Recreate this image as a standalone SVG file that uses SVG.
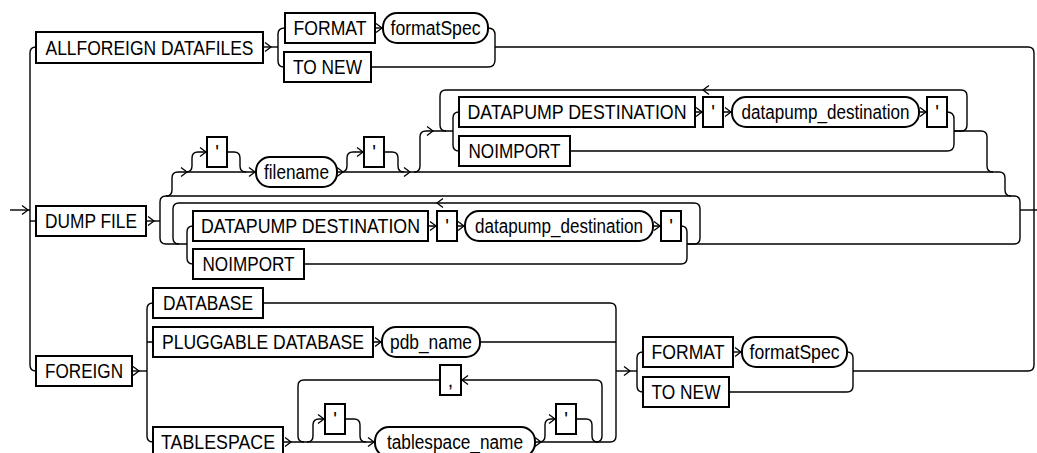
<svg xmlns="http://www.w3.org/2000/svg" width="1037" height="453" viewBox="0 0 1037 453">
<style>
.r{fill:none;stroke:#000;stroke-width:1.4}
.b{fill:#fff;stroke:#000;stroke-width:2}
.t{font-family:"Liberation Sans",Arial,Helvetica,sans-serif;font-size:19.5px;fill:#000}
.c{text-anchor:middle}
.a{fill:none;stroke:#000;stroke-width:1.3}
</style>
<defs>
<path id="ar" class="a" d="M-6,-4.5 L0,0 L-6,4.5"/>
<path id="al" class="a" d="M6,-4.5 L0,0 L6,4.5"/>
</defs>
<rect width="1037" height="453" fill="#fff"/>
<g id="connectors">
<path class="r" d="M10,210 L30,210"/>
<path class="r" d="M36,47 Q30,47 30,53 L30,365 Q30,371 36,371"/>
<path class="r" d="M30,221 L36,221"/>
<path class="r" d="M495,47 L1028,47 Q1034,47 1034,53 L1034,365 Q1034,371 1028,371 L853,371"/>
<path class="r" d="M1020,210 L1037,210"/>
<path class="r" d="M263,47 L278,47"/>
<path class="r" d="M285,28 Q278,28 278,34 L278,61 Q278,67 284,67"/>
<path class="r" d="M375,28 L383,28"/>
<path class="r" d="M488,28 Q495,28 495,35 L495,60 Q495,67 488,67 L371,67"/>
<path class="r" d="M146,221 L160,221"/>
<path class="r" d="M160,238 L160,202 Q160,196 166,196 L1014,196 Q1020,196 1020,202 L1020,238 Q1020,244 1014,244 L687,244"/>
<path class="r" d="M160,238 Q160,244 166,244 L187,244"/>
<path class="r" d="M166,196 Q172,196 172,190 L172,178 Q172,172 178,172 L256,172"/>
<path class="r" d="M186,172 Q192,172 192,166 L192,158 Q192,152 198,152 L207,152"/>
<path class="r" d="M227,152 L234,152 Q240,152 240,158 L240,166 Q240,172 246,172"/>
<path class="r" d="M337,172 L999,172 Q1005,172 1005,178 L1005,190 Q1005,196 1011,196"/>
<path class="r" d="M341,172 Q347,172 347,166 L347,158 Q347,152 353,152 L364,152"/>
<path class="r" d="M384,152 L392,152 Q398,152 398,158 L398,166 Q398,172 404,172"/>
<path class="r" d="M414,172 Q420,172 420,166 L420,137 Q420,131 426,131 L453,131"/>
<path class="r" d="M954,131 L961,131 Q967,131 967,125 L967,96 Q967,90 961,90 L446,90 Q440,90 440,96 L440,125 Q440,131 446,131"/>
<path class="r" d="M459,112 Q453,112 453,118 L453,145 Q453,151 459,151"/>
<path class="r" d="M695,112 L703,112 M723,112 L732,112 M919,112 L927,112"/>
<path class="r" d="M947,112 Q954,112 954,119 L954,144 Q954,151 947,151 L570,151"/>
<path class="r" d="M954,131 L981,131 Q987,131 987,137 L987,166 Q987,172 993,172"/>
<path class="r" d="M687,244 L694,244 Q700,244 700,238 L700,209 Q700,203 694,203 L179,203 Q173,203 173,209 L173,238 Q173,244 179,244"/>
<path class="r" d="M193,226 Q187,226 187,232 L187,258 Q187,264 193,264"/>
<path class="r" d="M428,226 L437,226 M457,226 L465,226 M653,226 L661,226"/>
<path class="r" d="M681,226 Q687,226 687,232 L687,258 Q687,264 681,264 L304,264"/>
<path class="r" d="M132,371 L147,371"/>
<path class="r" d="M153,303 Q147,303 147,309 L147,436 Q147,442 153,442 M147,342 L153,342"/>
<path class="r" d="M263,303 L610,303 Q616,303 616,309 L616,436 Q616,442 610,442 L535,442"/>
<path class="r" d="M373,342 L382,342 M480,342 L616,342"/>
<path class="r" d="M283,442 L375,442"/>
<path class="r" d="M596,442 Q602,442 602,436 L602,386 Q602,380 596,380 L461,380"/>
<path class="r" d="M440,380 L304,380 Q298,380 298,386 L298,436 Q298,442 304,442"/>
<path class="r" d="M307,442 Q313,442 313,436 L313,425 Q313,419 319,419 L325,419"/>
<path class="r" d="M345,419 L354,419 Q360,419 360,425 L360,436 Q360,442 366,442"/>
<path class="r" d="M539,442 Q545,442 545,436 L545,425 Q545,419 551,419 L556,419"/>
<path class="r" d="M576,419 L586,419 Q592,419 592,425 L592,436 Q592,442 598,442"/>
<path class="r" d="M616,371 L637,371"/>
<path class="r" d="M643,352 Q637,352 637,358 L637,386 Q637,392 643,392"/>
<path class="r" d="M733,352 L742,352"/>
<path class="r" d="M847,352 Q853,352 853,358 L853,386 Q853,392 847,392 L729,392"/>
<use href="#ar" x="28" y="210"/>
<use href="#ar" x="271" y="47"/>
<use href="#ar" x="382" y="28"/>
<use href="#ar" x="154" y="221"/>
<use href="#ar" x="187" y="172"/>
<use href="#ar" x="206" y="152"/>
<use href="#ar" x="255" y="172"/>
<use href="#ar" x="343" y="172"/>
<use href="#ar" x="363" y="152"/>
<use href="#ar" x="410" y="172"/>
<use href="#ar" x="433" y="131"/>
<use href="#al" x="703" y="90"/>
<use href="#ar" x="702" y="112"/>
<use href="#ar" x="731" y="112"/>
<use href="#ar" x="926" y="112"/>
<use href="#al" x="437" y="203"/>
<use href="#ar" x="436" y="226"/>
<use href="#ar" x="464" y="226"/>
<use href="#ar" x="660" y="226"/>
<use href="#ar" x="139" y="371"/>
<use href="#ar" x="381" y="342"/>
<use href="#ar" x="291" y="442"/>
<use href="#al" x="462" y="380"/>
<use href="#ar" x="324" y="419"/>
<use href="#ar" x="374" y="442"/>
<use href="#ar" x="541" y="442"/>
<use href="#ar" x="555" y="419"/>
<use href="#ar" x="630" y="371"/>
<use href="#ar" x="741" y="352"/>
</g>
<g id="allforeign"><rect class="b" x="36" y="32" width="227" height="31"/><text class="t" x="45.5" y="54.5" textLength="208" lengthAdjust="spacingAndGlyphs">ALLFOREIGN DATAFILES</text></g>
<g id="format1"><rect class="b" x="285" y="13" width="90" height="30"/><text class="t" x="293.5" y="35" textLength="73" lengthAdjust="spacingAndGlyphs">FORMAT</text></g>
<g id="formatspec1"><rect class="b" x="383" y="13" width="105" height="30" rx="14"/><text class="t" x="390.5" y="35" textLength="90" lengthAdjust="spacingAndGlyphs">formatSpec</text></g>
<g id="tonew1"><rect class="b" x="284" y="52" width="87" height="30"/><text class="t" x="293" y="74" textLength="69" lengthAdjust="spacingAndGlyphs">TO NEW</text></g>
<g id="dumpfile"><rect class="b" x="36" y="206" width="110" height="30"/><text class="t" x="45" y="228" textLength="92" lengthAdjust="spacingAndGlyphs">DUMP FILE</text></g>
<g id="q1"><rect class="b" x="207" y="137" width="20" height="30"/><text class="t c" x="217" y="159">'</text></g>
<g id="filename"><rect class="b" x="256" y="157" width="81" height="30" rx="14"/><text class="t" x="264" y="179" textLength="65" lengthAdjust="spacingAndGlyphs">filename</text></g>
<g id="q2"><rect class="b" x="364" y="137" width="20" height="30"/><text class="t c" x="374" y="159">'</text></g>
<g id="dpdest1"><rect class="b" x="459" y="97" width="236" height="30"/><text class="t" x="467.5" y="119" textLength="219" lengthAdjust="spacingAndGlyphs">DATAPUMP DESTINATION</text></g>
<g id="q3"><rect class="b" x="703" y="97" width="20" height="30"/><text class="t c" x="713" y="119">'</text></g>
<g id="dpd1"><rect class="b" x="732" y="97" width="187" height="30" rx="14"/><text class="t" x="741.5" y="119" textLength="168" lengthAdjust="spacingAndGlyphs">datapump_destination</text></g>
<g id="q4"><rect class="b" x="927" y="97" width="20" height="30"/><text class="t c" x="937" y="119">'</text></g>
<g id="noimport1"><rect class="b" x="459" y="136" width="111" height="30"/><text class="t" x="468.5" y="158" textLength="92" lengthAdjust="spacingAndGlyphs">NOIMPORT</text></g>
<g id="dpdest2"><rect class="b" x="193" y="211" width="235" height="30"/><text class="t" x="201" y="233" textLength="219" lengthAdjust="spacingAndGlyphs">DATAPUMP DESTINATION</text></g>
<g id="q5"><rect class="b" x="437" y="211" width="20" height="30"/><text class="t c" x="447" y="233">'</text></g>
<g id="dpd2"><rect class="b" x="465" y="211" width="188" height="30" rx="14"/><text class="t" x="475" y="233" textLength="168" lengthAdjust="spacingAndGlyphs">datapump_destination</text></g>
<g id="q6"><rect class="b" x="661" y="211" width="20" height="30"/><text class="t c" x="671" y="233">'</text></g>
<g id="noimport2"><rect class="b" x="193" y="249" width="111" height="30"/><text class="t" x="202.5" y="271" textLength="92" lengthAdjust="spacingAndGlyphs">NOIMPORT</text></g>
<g id="foreign"><rect class="b" x="36" y="356" width="96" height="30"/><text class="t" x="45" y="378" textLength="78" lengthAdjust="spacingAndGlyphs">FOREIGN</text></g>
<g id="database"><rect class="b" x="153" y="288" width="110" height="30"/><text class="t" x="163" y="310" textLength="90" lengthAdjust="spacingAndGlyphs">DATABASE</text></g>
<g id="pluggable"><rect class="b" x="153" y="327" width="220" height="30"/><text class="t" x="162" y="349" textLength="202" lengthAdjust="spacingAndGlyphs">PLUGGABLE DATABASE</text></g>
<g id="pdbname"><rect class="b" x="382" y="327" width="98" height="30" rx="14"/><text class="t" x="390" y="349" textLength="82" lengthAdjust="spacingAndGlyphs">pdb_name</text></g>
<g id="tablespace"><rect class="b" x="153" y="427" width="130" height="30"/><text class="t" x="161" y="449" textLength="114" lengthAdjust="spacingAndGlyphs">TABLESPACE</text></g>
<g id="comma"><rect class="b" x="440" y="365" width="21" height="30"/><text class="t c" x="450.5" y="387">,</text></g>
<g id="q7"><rect class="b" x="325" y="404" width="20" height="30"/><text class="t c" x="335" y="426">'</text></g>
<g id="tsname"><rect class="b" x="375" y="427" width="160" height="30" rx="14"/><text class="t" x="387" y="449" textLength="136" lengthAdjust="spacingAndGlyphs">tablespace_name</text></g>
<g id="q8"><rect class="b" x="556" y="404" width="20" height="30"/><text class="t c" x="566" y="426">'</text></g>
<g id="format2"><rect class="b" x="643" y="337" width="90" height="30"/><text class="t" x="651.5" y="359" textLength="73" lengthAdjust="spacingAndGlyphs">FORMAT</text></g>
<g id="formatspec2"><rect class="b" x="742" y="337" width="105" height="30" rx="14"/><text class="t" x="749.5" y="359" textLength="90" lengthAdjust="spacingAndGlyphs">formatSpec</text></g>
<g id="tonew2"><rect class="b" x="643" y="377" width="86" height="30"/><text class="t" x="651.5" y="399" textLength="69" lengthAdjust="spacingAndGlyphs">TO NEW</text></g>
</svg>
